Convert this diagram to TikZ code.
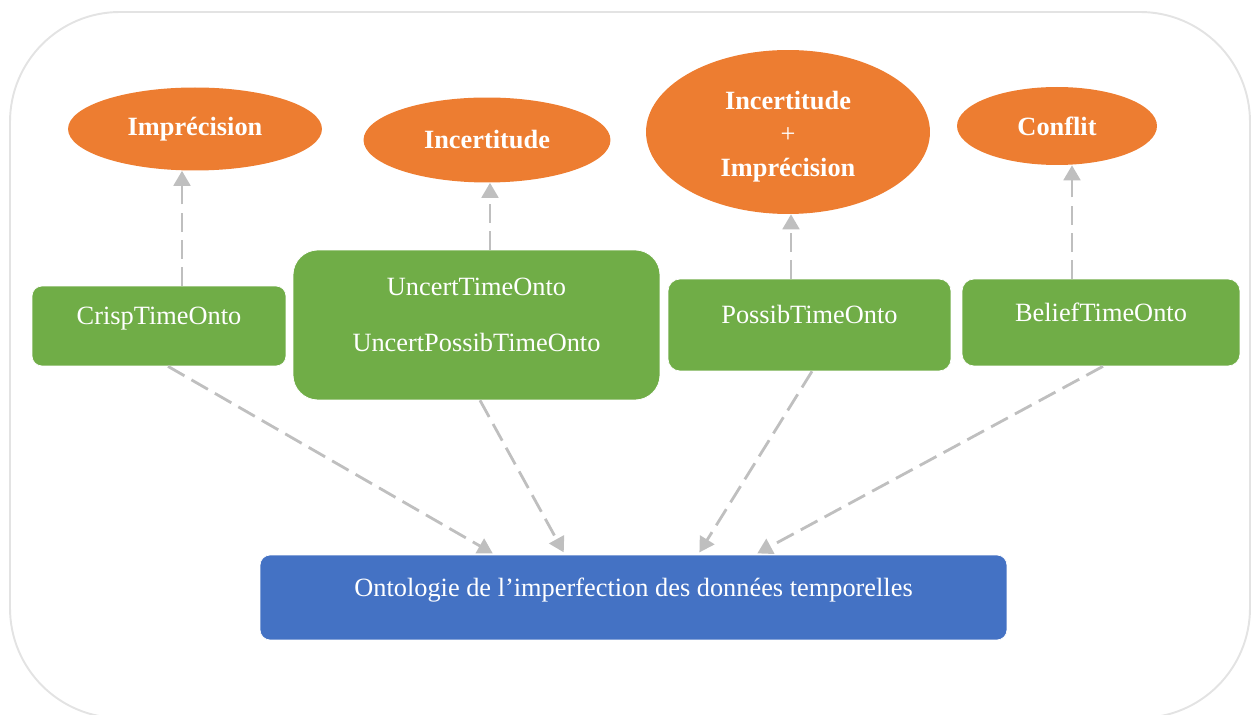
\documentclass[tikz,border=0pt]{standalone}
\usepackage{fontspec}
\setmainfont{Liberation Serif}
\usetikzlibrary{arrows.meta, shapes.geometric, calc}

\definecolor{imporange}{HTML}{ED7D31}
\definecolor{ontogreen}{HTML}{70AD47}
\definecolor{ontoblue}{HTML}{4472C4}
\definecolor{arrgray}{HTML}{BFBFBF}
\definecolor{framegray}{HTML}{E3E3E3}

\begin{document}
\begin{tikzpicture}[
  x=0.02cm, y=-0.02cm,
  imperf/.style={ellipse, fill=imporange, inner sep=0pt, text=white, align=center, font=\fontsize{15}{18}\selectfont\bfseries},
  gbox/.style={rectangle, fill=ontogreen, draw=white, line width=0.4pt, text=white, align=center, font=\fontsize{15}{18}\selectfont, text height=10pt, text depth=11.5pt},
  bbox/.style={gbox, fill=ontoblue},
  arr/.style={-{Triangle[length=8.5pt, width=9.5pt]}, draw=arrgray, line width=1.6pt, dash pattern=on 10.8pt off 4.6pt},
]

\useasboundingbox (0,0) rectangle (1252,715);
\draw[framegray, line width=1.1pt, rounded corners=2.2cm] (10,12) rectangle (1250,718);

% types d'imperfection
\node[imperf, minimum width=5.08cm, minimum height=1.66cm] (impr) at (195,129) {Imprécision};
\node[imperf, minimum width=4.94cm, minimum height=1.70cm] (incert) at (487,140) {Incertitude};
\node[imperf, minimum width=5.68cm, minimum height=3.28cm, font=\fontsize{15}{19}\selectfont\bfseries] (both) at (788,132) {\rule{0pt}{15.5pt}Incertitude\\{\mdseries +}\\Imprécision};
\node[imperf, minimum width=4.00cm, minimum height=1.56cm] (conflit) at (1057,126) {Conflit};

% ontologies
\node[gbox, rounded corners=0.2cm, minimum width=5.08cm, minimum height=1.60cm] (crisp) at (159,326) {CrispTimeOnto};
\node[gbox, rounded corners=0.5cm, minimum width=7.34cm, minimum height=3.00cm, text height=, text depth=] (uncert) at (476.5,325) {UncertTimeOnto\\[14pt]UncertPossibTimeOnto\rule[-12pt]{0pt}{12pt}};
\node[gbox, rounded corners=0.24cm, minimum width=5.66cm, minimum height=1.84cm] (possib) at (809.5,325) {PossibTimeOnto};
\node[gbox, rounded corners=0.24cm, minimum width=5.56cm, minimum height=1.74cm] (belief) at (1101,322.5) {BeliefTimeOnto};
\node[bbox, rounded corners=0.2cm, minimum width=14.94cm, minimum height=1.70cm] (onto) at (633.5,597.5) {Ontologie de l’imperfection des données temporelles};

\draw[arr] (crisp.north -| 182,0) -- (impr.south -| 182,0);
\draw[arr] (uncert.north -| 490,0) -- (incert.south -| 490,0);
\draw[arr] (possib.north -| 791,0) -- (both.south -| 791,0);
\draw[arr] (belief.north -| 1072,0) -- (conflit.south -| 1072,0);

\draw[arr, shorten >=1.5pt] (crisp.south -| 168,0) -- (onto.north -| 495,0);
\draw[arr, shorten >=1.5pt] (uncert.south -| 480,0) -- (onto.north -| 565,0);
\draw[arr, shorten >=1.5pt] (possib.south -| 812,0) -- (onto.north -| 698,0);
\draw[arr, shorten >=1.5pt] (belief.south -| 1103,0) -- (onto.north -| 755,0);

\end{tikzpicture}
\end{document}
